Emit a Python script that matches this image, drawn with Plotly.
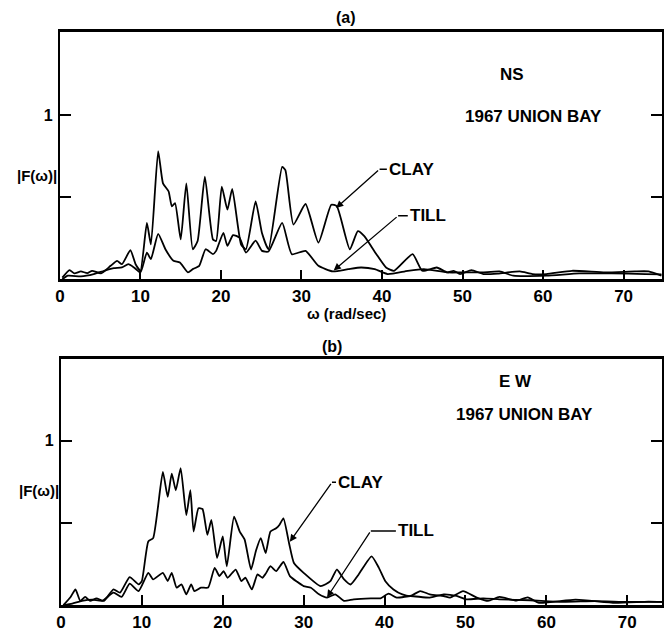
import plotly.graph_objects as go

# Fourier amplitude spectra |F(w)| for the 1967 Union Bay records, clay vs till sites
# (a) NS component
ns_clay_w = [0.3, 1.2, 1.8, 2.6, 3.4, 4.0, 5.1, 6.3, 7.1, 7.7, 8.75, 9.4, 10.0, 10.8, 11.3, 12.2, 12.8,
             13.5, 13.9, 14.3, 15.0, 15.7, 16.5, 17.1, 18.0, 19.0, 19.4, 20.1, 20.8, 21.4, 22.5, 23.1,
             24.3, 25.1, 25.9, 27.6, 28.0, 29.0, 30.5, 32.1, 33.7, 34.4, 36.0, 37.0, 37.8, 39.3, 40.5,
             41.5, 43.8, 45.0, 46.8, 48.1, 48.9, 49.7, 51.1, 52.6, 54.4, 57.1, 58.7, 60.4, 63.6, 67.7,
             71.4, 73.1, 74.7]
ns_clay_amp = [0.01, 0.056, 0.036, 0.048, 0.038, 0.052, 0.036, 0.082, 0.112, 0.092, 0.177, 0.092, 0.052,
               0.343, 0.212, 0.78, 0.584, 0.534, 0.443, 0.464, 0.243, 0.584, 0.183, 0.233, 0.624, 0.243,
               0.233, 0.564, 0.424, 0.55, 0.212, 0.183, 0.474, 0.28, 0.183, 0.684, 0.664, 0.333, 0.458,
               0.223, 0.454, 0.444, 0.183, 0.293, 0.263, 0.153, 0.072, 0.052, 0.153, 0.052, 0.072, 0.042,
               0.052, 0.032, 0.056, 0.032, 0.035, 0.048, 0.032, 0.032, 0.052, 0.042, 0.048, 0.048, 0.022]
ns_till_w = [0.3, 1.0, 2.6, 4.2, 5.5, 6.7, 7.7, 8.5, 9.2, 10.0, 10.8, 11.3, 12.2, 13.1, 14.1, 14.9, 15.9,
             16.5, 17.3, 18.1, 19.0, 19.4, 20.3, 20.8, 21.5, 22.3, 23.1, 24.3, 25.1, 25.9, 27.6, 28.8,
             30.5, 32.1, 33.9, 35.8, 37.4, 39.1, 40.7, 43.2, 45.2, 48.1, 50.1, 52.4, 54.6, 56.3, 60.4,
             64.5, 68.5, 72.7, 74.7]
ns_till_amp = [0.0, 0.022, 0.018, 0.032, 0.052, 0.068, 0.072, 0.092, 0.072, 0.042, 0.163, 0.123, 0.277,
               0.183, 0.113, 0.102, 0.042, 0.062, 0.082, 0.183, 0.153, 0.173, 0.283, 0.203, 0.269, 0.253,
               0.163, 0.235, 0.173, 0.169, 0.343, 0.153, 0.173, 0.082, 0.048, 0.062, 0.072, 0.062, 0.032,
               0.052, 0.062, 0.042, 0.042, 0.042, 0.048, 0.022, 0.022, 0.036, 0.036, 0.032, 0.03]

# (b) EW component
ew_clay_w = [0.3, 1.2, 1.8, 2.4, 3.0, 3.6, 4.4, 5.3, 6.5, 7.3, 8.5, 9.6, 10.0, 10.8, 11.4, 12.6, 13.2,
             13.7, 14.2, 14.8, 15.5, 16.0, 16.4, 17.0, 17.5, 18.1, 18.6, 19.3, 20.0, 20.5, 21.4, 22.1,
             22.7, 23.5, 24.1, 24.7, 25.3, 25.9, 26.6, 27.0, 27.5, 28.2, 28.8, 30.0, 32.1, 33.3, 34.1,
             35.0, 35.8, 36.8, 38.4, 39.3, 40.1, 41.1, 42.2, 43.2, 44.4, 45.6, 47.3, 48.1, 49.7, 51.4,
             52.8, 54.2, 56.3, 57.7, 59.1, 63.6, 68.5, 72.6, 74.3]
ew_clay_amp = [0.0, 0.05, 0.096, 0.026, 0.05, 0.026, 0.042, 0.026, 0.096, 0.076, 0.171, 0.127, 0.147,
               0.388, 0.408, 0.81, 0.659, 0.80, 0.699, 0.834, 0.548, 0.699, 0.448, 0.589, 0.585, 0.428,
               0.518, 0.287, 0.418, 0.237, 0.538, 0.448, 0.40, 0.217, 0.33, 0.408, 0.317, 0.448, 0.468,
               0.488, 0.528, 0.377, 0.257, 0.197, 0.116, 0.146, 0.217, 0.157, 0.126, 0.187, 0.297, 0.227,
               0.146, 0.096, 0.066, 0.056, 0.086, 0.066, 0.056, 0.046, 0.086, 0.046, 0.026, 0.05, 0.028,
               0.048, 0.014, 0.034, 0.014, 0.022, 0.02]
ew_till_w = [0.3, 1.4, 2.6, 3.9, 5.1, 6.5, 7.5, 8.5, 9.6, 10.8, 11.4, 12.6, 13.2, 13.7, 14.3, 14.9, 15.5,
             16.1, 16.5, 17.3, 18.2, 19.0, 19.6, 20.1, 20.6, 21.6, 22.3, 22.8, 23.6, 24.3, 24.9, 25.3,
             25.9, 26.6, 27.5, 28.3, 29.2, 30.0, 30.9, 31.9, 32.9, 33.9, 35.0, 36.2, 38.3, 39.5, 40.5,
             41.5, 43.2, 45.6, 47.3, 48.9, 50.1, 52.2, 54.2, 58.0, 62.0, 66.0, 70.0, 74.3]
ew_till_amp = [0.0, 0.01, 0.026, 0.034, 0.026, 0.076, 0.05, 0.131, 0.086, 0.197, 0.157, 0.197, 0.147,
               0.197, 0.107, 0.127, 0.066, 0.127, 0.086, 0.107, 0.107, 0.227, 0.177, 0.207, 0.167, 0.217,
               0.147, 0.167, 0.096, 0.187, 0.167, 0.191, 0.237, 0.207, 0.263, 0.177, 0.142, 0.116, 0.106,
               0.066, 0.046, 0.066, 0.026, 0.036, 0.042, 0.042, 0.07, 0.046, 0.056, 0.046, 0.066, 0.056,
               0.036, 0.042, 0.036, 0.03, 0.02, 0.025, 0.02, 0.02]

x_ticks = [0, 10, 20, 30, 40, 50, 60, 70]
y_ticks = [0.5, 1]
y_ticklabels = ["", "1"]

# callouts: (label, arrow tip, elbow, label start) in data units
ns_callouts = [("CLAY", (34.3, 0.434), (39.7, 0.67), (40.6, 0.67)),
               ("TILL", (34.0, 0.054), (42.0, 0.386), (43.2, 0.386))]
ew_callouts = [("CLAY", (28.3, 0.386), (33.5, 0.747), (34.0, 0.747)),
               ("TILL", (32.9, 0.048), (38.3, 0.452), (41.4, 0.452))]

W, H = 664, 632
FONT = "Liberation Sans"
INK = "black"

def px(x):
    return x / W

def py(y):
    return 1 - y / H

fig = go.Figure()
line = dict(color=INK, width=1.8, shape="spline", smoothing=0.5)
fig.add_trace(go.Scatter(x=ns_clay_w, y=ns_clay_amp, mode="lines", line=line, xaxis="x", yaxis="y"))
fig.add_trace(go.Scatter(x=ns_till_w, y=ns_till_amp, mode="lines", line=line, xaxis="x", yaxis="y"))
fig.add_trace(go.Scatter(x=ew_clay_w, y=ew_clay_amp, mode="lines", line=line, xaxis="x2", yaxis="y2"))
fig.add_trace(go.Scatter(x=ew_till_w, y=ew_till_amp, mode="lines", line=line, xaxis="x2", yaxis="y2"))

tickfont = dict(family=FONT, size=17, color=INK, weight="bold")
xcommon = dict(tickvals=x_ticks, ticks="inside", ticklen=10, tickwidth=1.5, tickcolor=INK,
               showline=True, linecolor=INK, linewidth=2.5, mirror=True, showgrid=False,
               zeroline=False, tickfont=tickfont, fixedrange=True)
ycommon = dict(tickvals=y_ticks, ticktext=y_ticklabels, ticks="inside", ticklen=11, tickwidth=1.5,
               tickcolor=INK, showline=True, linecolor=INK, linewidth=2, mirror="ticks",
               showgrid=False, zeroline=False, tickfont=dict(family=FONT, size=16, color=INK, weight="bold"),
               ticklabelstandoff=2, fixedrange=True)

fig.update_layout(
    width=W, height=H, margin=dict(l=0, r=0, t=0, b=0),
    paper_bgcolor="white", plot_bgcolor="white", showlegend=False,
    xaxis=dict(domain=[px(55.5), 1.0], range=[0, 74.77], anchor="y", **xcommon),
    yaxis=dict(domain=[py(282), py(32)], range=[0, 1.506], anchor="x", **ycommon),
    xaxis2=dict(domain=[px(56.5), 1.0], range=[0, 74.29], anchor="y2", **xcommon),
    yaxis2=dict(domain=[py(611), py(362)], range=[0, 1.5], anchor="x2", **ycommon),
)

def txt(x, y, s, size=17, xanchor="center", xref="paper", yref="paper"):
    fig.add_annotation(x=x, y=y, xref=xref, yref=yref, text=s, showarrow=False,
                       xanchor=xanchor, yanchor="middle",
                       font=dict(family=FONT, size=size, color=INK, weight="bold"))

# panel captions and headings
txt(px(345), py(18), "(a)", 16)
txt(px(330), py(350), "(b)", 16)
txt(px(345), py(317), "ω (rad/sec)", 15)
txt(px(512), py(75), "NS", 17)
txt(px(534), py(118), "1967 UNION BAY", 17)
txt(px(516), py(385), "E W", 17)
txt(px(525), py(418), "1967 UNION BAY", 17)
txt(px(55), py(177), "|F(ω)|", 15, xanchor="right")
txt(px(57), py(495), "|F(ω)|", 15, xanchor="right")

# labelled leaders pointing at the curves
for callouts, xr, yr in ((ns_callouts, "x", "y"), (ew_callouts, "x2", "y2")):
    for label, tip, elbow, start in callouts:
        fig.add_annotation(x=tip[0], y=tip[1], xref=xr, yref=yr, ax=elbow[0], ay=elbow[1],
                           axref=xr, ayref=yr, text="", showarrow=True, arrowhead=2,
                           arrowsize=1.1, arrowwidth=1.3, arrowcolor=INK, standoff=0, startstandoff=0)
        fig.add_shape(type="line", xref=xr, yref=yr, x0=elbow[0], y0=elbow[1], x1=start[0], y1=start[1],
                      line=dict(color=INK, width=1.5))
        txt(start[0], start[1], label, 17, xanchor="left", xref=xr, yref=yr)

fig.write_html("out.html")
